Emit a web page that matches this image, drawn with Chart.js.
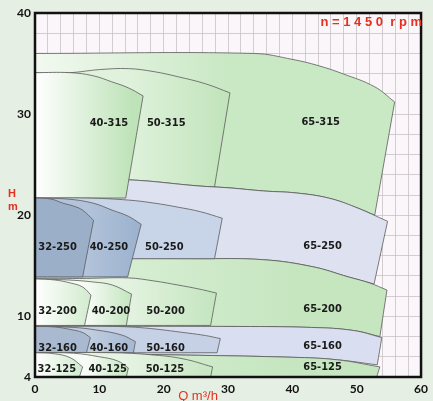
<!DOCTYPE html>
<html>
<head>
<meta charset="utf-8">
<script src="https://cdn.jsdelivr.net/npm/chart.js@4/dist/chart.umd.min.js"></script>
<style>
  body { margin: 0; background: #e6efe3; }
  #wrap { width: 433px; height: 401px; }
</style>
</head>
<body>
<div id="wrap"><canvas id="pumps" width="433" height="401"></canvas></div>
<script>
// axis ticks
const xTickLabels = [0, 10, 20, 30, 40, 50, 60];
const yTickLabels = [4, 10, 20, 30, 40];

// shared top curves of the big 65 pumps (Q m3/h, H m); a third value 1 marks a sharp corner
const top65_315 = [[0, 36.0], [34, 36.0], [40.1, 35.4], [44, 34.8], [47.8, 34.0], [52.8, 32.7], [55.9, 31.2, 1]];
const top65_250 = [[0, 23.6], [14.5, 23.5], [25.3, 22.9], [30.3, 22.7], [35.5, 22.4], [40.6, 22.2], [45.6, 21.7], [49.8, 20.8], [54.8, 19.4, 1]];
const top65_200 = [[0, 15.7], [25.3, 15.7], [35.5, 15.6], [43.2, 14.9], [48.7, 13.9], [52, 13.3], [54.7, 12.6, 1]];
const top65_160 = [[0, 9.0], [30, 9.0], [43, 8.9], [49.5, 8.6], [53.9, 7.9, 1]];
const top65_125 = [[0, 6.4], [20, 6.2], [40, 5.95], [47, 5.7], [53.6, 5.0, 1]];

// regions, outline points
const r65_315 = [...top65_315, [52.8, 20.0, 1], [49.8, 20.8], [45.6, 21.7], [40.6, 22.2], [35.5, 22.4], [30.3, 22.7], [25.3, 22.9], [14.5, 23.5], [0, 23.6, 1]];
const r50_315 = [[0, 34.1], [5.4, 34.1], [10, 34.4], [14.5, 34.5], [18.5, 34.2], [22.2, 33.7], [26.5, 33.0], [30.3, 32.1, 1], [27.9, 22.8, 1], [25.3, 22.9], [14.5, 23.5], [0, 23.6, 1]];
const r40_315 = [[0, 34.1], [5.4, 34.1], [9, 33.8], [11.9, 33.2], [14.5, 32.6], [16.8, 31.8, 1], [14.1, 21.7, 1], [0, 21.7, 1]];

const r65_250 = [...top65_250, [52.7, 13.2, 1], [48.7, 13.9], [43.2, 14.9], [35.5, 15.6], [25.3, 15.7], [0, 15.7, 1]];
const r50_250 = [[0, 21.7], [8, 21.7], [14.5, 21.5], [18.5, 21.2], [22.2, 20.8], [25.7, 20.35], [29.1, 19.7, 1], [27.9, 15.7, 1], [0, 15.7, 1]];
const r40_250 = [[0, 21.7], [5, 21.6], [9, 21.2], [12, 20.5], [14.5, 19.9], [16.5, 19.1, 1], [14.4, 13.9, 1], [0, 13.9, 1]];
const r32_250 = [[0, 21.7], [2.5, 21.6], [4.3, 21.2], [6, 20.9], [7.4, 20.5], [9.1, 19.5, 1], [7.4, 13.9, 1], [0, 13.9, 1]];

const r65_200 = [...top65_200, [53.6, 8.0, 1], [49.5, 8.6], [43, 8.9], [30, 9.0], [0, 9.0, 1]];
const r50_200 = [[0, 13.7], [8, 13.75], [14.5, 13.8], [18.5, 13.5], [22.2, 13.1], [25.5, 12.7], [28.2, 12.3, 1], [27.3, 9.1, 1], [0, 9.1, 1]];
const r40_200 = [[0, 13.7], [5, 13.6], [9, 13.4], [12, 13.1], [15, 12.2, 1], [14.2, 9.1, 1], [0, 9.1, 1]];
const r32_200 = [[0, 13.7], [3, 13.6], [5.5, 13.3], [7.4, 12.9], [8.7, 12.1, 1], [7.7, 9.1, 1], [0, 9.1, 1]];

const r65_160 = [...top65_160, [53.2, 5.2, 1], [47, 5.7], [40, 5.95], [20, 6.2], [0, 6.4, 1]];
const r50_160 = [[0, 9.0], [12, 9.0], [17, 8.85], [23.7, 8.35], [26.5, 8.1], [28.8, 7.8, 1], [28.3, 6.4, 1], [0, 6.4, 1]];
const r40_160 = [[0, 9.0], [6, 8.9], [9.5, 8.65], [13.5, 8.15], [15.6, 7.5, 1], [15.3, 6.4, 1], [0, 6.4, 1]];
const r32_160 = [[0, 9.0], [3, 8.95], [5.5, 8.7], [7.4, 8.4], [8.6, 7.9, 1], [8.0, 6.4, 1], [0, 6.4, 1]];

const r65_125 = [...top65_125, [53.1, 4, 1], [0, 4, 1]];
const r50_125 = [[0, 6.4], [12, 6.4], [18, 6.2], [23, 5.8], [27.6, 5.0, 1], [27.3, 4, 1], [0, 4, 1]];
const r40_125 = [[0, 6.4], [6, 6.35], [10, 6.0], [12.8, 5.6], [14.5, 4.9, 1], [14.2, 4, 1], [0, 4, 1]];
const r32_125 = [[0, 6.4], [3, 6.3], [5.5, 5.9], [7.4, 5.0, 1], [6.9, 4, 1], [0, 4, 1]];

// names and label spots (drawn bottom layer first)
const labels = ['65-315', '50-315', '65-250', '40-315', '65-200', '50-250', '40-250', '32-250',
  '65-160', '50-200', '40-200', '32-200', '65-125', '50-160', '40-160', '32-160', '50-125', '40-125', '32-125'];
const shapes = [r65_315, r50_315, r65_250, r40_315, r65_200, r50_250, r40_250, r32_250,
  r65_160, r50_200, r40_200, r32_200, r65_125, r50_160, r40_160, r32_160, r50_125, r40_125, r32_125];
const labelQ = [44.4, 20.4, 44.7, 11.5, 44.7, 20.1, 11.5, 3.5, 44.7, 20.3, 11.8, 3.5, 44.7, 20.3, 11.5, 3.5, 20.2, 11.3, 3.4];
const labelH = [29.2, 29.1, 16.9, 29.1, 10.7, 16.8, 16.8, 16.8, 7.1, 10.5, 10.5, 10.5, 5.0, 6.9, 6.9, 6.9, 4.8, 4.8, 4.8];

function grad(q0, q1, c0, c1) {
  return function (context) {
    const chart = context.chart;
    const x = chart.scales.x;
    if (!chart.chartArea || !x) return c1;
    const g = chart.ctx.createLinearGradient(x.getPixelForValue(q0), 0, x.getPixelForValue(q1), 0);
    g.addColorStop(0, c0);
    g.addColorStop(1, c1);
    return g;
  };
}

const fills = [
  grad(0, 30, '#f2f9f0', '#c9e8c4'),
  grad(14, 30, '#e0f2dc', '#c1e4bb'),
  '#dee2f0',
  grad(0, 15, '#ffffff', '#bfe3b9'),
  grad(14, 40, '#d6eed2', '#c6e6c0'),
  '#c8d4e7',
  grad(8, 16, '#b2c3da', '#9cb2ce'),
  '#9bafc9',
  '#d9def0',
  grad(14, 28, '#e4f3e1', '#c4e5bf'),
  grad(8, 15, '#f6fbf5', '#c4e5bf'),
  grad(0, 9, '#ffffff', '#d0ebcc'),
  grad(14, 40, '#d4edd0', '#c5e6c0'),
  '#c6d1e5',
  grad(8, 15, '#c1cee1', '#a8bad3'),
  '#a8b9d0',
  grad(14, 28, '#e6f4e3', '#c6e6c1'),
  grad(8, 15, '#f8fcf7', '#c2e4bd'),
  grad(0, 7, '#ffffff', '#d3ecd0')
];

// corner points are doubled so the spline keeps them sharp
function toPoints(pts) {
  const out = [];
  pts.concat([pts[0]]).forEach(function (p) {
    out.push({x: p[0], y: p[1]});
    if (p[2]) out.push({x: p[0], y: p[1]});
  });
  return out;
}

const datasets = shapes.map(function (pts, i) {
  return {
    label: labels[i],
    data: toPoints(pts),
    showLine: true,
    fill: 'shape',
    backgroundColor: fills[i],
    borderColor: '#5a5a5a',
    borderWidth: 0.8,
    pointRadius: 0,
    tension: 0.4,
    order: shapes.length - i
  };
});

const paint = {
  id: 'paint',
  beforeDraw: function (chart) {
    const ctx = chart.ctx, a = chart.chartArea;
    ctx.save();
    ctx.fillStyle = '#e6efe3';
    ctx.fillRect(0, 0, chart.width, chart.height);
    ctx.fillStyle = '#fbf6f9';
    ctx.fillRect(a.left, a.top, a.right - a.left, a.bottom - a.top);
    ctx.restore();
  },
  afterDatasetsDraw: function (chart) {
    const ctx = chart.ctx, x = chart.scales.x, y = chart.scales.y;
    ctx.save();
    ctx.fillStyle = '#1a1a1a';
    ctx.font = "bold 11px 'Liberation Sans Narrow', 'DejaVu Sans Condensed', sans-serif";
    ctx.textAlign = 'center';
    ctx.textBaseline = 'middle';
    labels.forEach(function (t, i) {
      ctx.fillText(t, x.getPixelForValue(labelQ[i]), y.getPixelForValue(labelH[i]));
    });
    ctx.restore();
  },
  afterDraw: function (chart) {
    const ctx = chart.ctx, a = chart.chartArea;
    ctx.save();
    ctx.strokeStyle = '#111';
    ctx.lineWidth = 2.5;
    ctx.strokeRect(a.left, a.top, a.right - a.left, a.bottom - a.top);
    ctx.fillStyle = '#e5301f';
    ctx.font = "bold 13px 'Liberation Sans', Arial, sans-serif";
    ctx.textAlign = 'right';
    ctx.textBaseline = 'alphabetic';
    ctx.fillText('n = 1 4 5 0  r p m', 422, 26);
    ctx.textAlign = 'center';
    ctx.font = "bold 11px 'Liberation Sans', Arial, sans-serif";
    ctx.fillText('H', 12, 197);
    ctx.fillText('m', 13, 210);
    ctx.font = "13px 'Liberation Sans', Arial, sans-serif";
    ctx.fillText('Q m³/h', 198, 400);
    ctx.restore();
  }
};

new Chart(document.getElementById('pumps'), {
  type: 'scatter',
  data: { datasets: datasets },
  options: {
    responsive: false,
    animation: false,
    layout: { padding: { top: 13, right: 6, left: 0, bottom: 0 } },
    plugins: { legend: { display: false }, tooltip: { enabled: false } },
    scales: {
      x: {
        type: 'linear', min: 0, max: 60,
        afterFit: function (s) { s.height = 24; },
        border: { display: false },
        grid: { color: '#c9c1c7', lineWidth: 0.8, drawTicks: false },
        ticks: {
          stepSize: 2, autoSkip: false, maxRotation: 0, padding: 5, color: '#111',
          font: { family: 'Lato', weight: 'bold', size: 12 },
          callback: function (v) { return xTickLabels.includes(v) ? v : ''; }
        }
      },
      y: {
        type: 'linear', min: 4, max: 40,
        afterFit: function (s) { s.width = 35; },
        border: { display: false },
        grid: { color: '#c9c1c7', lineWidth: 0.8, drawTicks: false },
        ticks: {
          stepSize: 2, autoSkip: false, padding: 4, color: '#111',
          font: { family: 'Lato', weight: 'bold', size: 12 },
          callback: function (v) { return yTickLabels.includes(v) ? v : ''; }
        }
      }
    }
  },
  plugins: [paint]
});
</script>
</body>
</html>
